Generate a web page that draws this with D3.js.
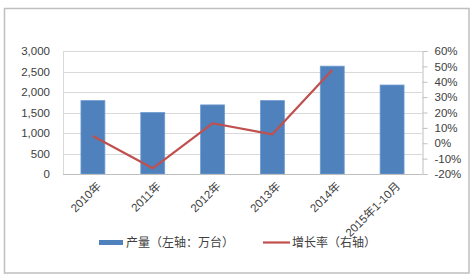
<!DOCTYPE html>
<html><head><meta charset="utf-8">
<script src="https://cdn.jsdelivr.net/npm/d3@7"></script>
<style>
html,body{margin:0;padding:0;background:#fff;}
svg text{font-family:"Liberation Sans","Noto Sans CJK SC",sans-serif;fill:#404040;}
</style></head>
<body><svg id="c" width="476" height="275"></svg>
<script>
const categories = ["2010年","2011年","2012年","2013年","2014年","2015年1-10月"];
const output = [1790, 1500, 1685, 1790, 2630, 2170];
const growth = [4.7, -16.3, 13.0, 5.8, 47.6];
const leftTicks = [0,500,1000,1500,2000,2500,3000];
const rightTicks = [-20,-10,0,10,20,30,40,50,60];
const legendLabels = ["产量（左轴：万台）","增长率（右轴）"];

const svg = d3.select("#c");
// outer frame
svg.append("rect").attr("x",4.5).attr("y",8.5).attr("width",464.5).attr("height",264.5)
  .attr("fill","none").attr("stroke","#bfbfbf").attr("stroke-width",1.5);

const L=63, R=422, T=51, B=174;
const x = d3.scaleBand().domain(categories).range([L,R]).paddingInner(0.6).paddingOuter(0.3);
const xc = d3.scalePoint().domain(categories).range([L,R]).padding(0.5);
const yL = d3.scaleLinear().domain([0,3000]).range([B,T]);
const yR = d3.scaleLinear().domain([-20,60]).range([B,T]);

// gridlines
svg.append("g").selectAll("line").data(leftTicks).join("line")
  .attr("x1",L).attr("x2",R).attr("y1",d=>Math.round(yL(d))+0.5).attr("y2",d=>Math.round(yL(d))+0.5)
  .attr("stroke","#d9d9d9").attr("stroke-width",1);
// left axis line
svg.append("line").attr("x1",L+0.5).attr("x2",L+0.5).attr("y1",T).attr("y2",B).attr("stroke","#d9d9d9");

// bars
svg.append("g").selectAll("rect").data(output).join("rect")
  .attr("x",(d,i)=>x(categories[i])).attr("width",x.bandwidth())
  .attr("y",d=>yL(d)).attr("height",d=>B-yL(d))
  .attr("fill","#4f81bd").attr("stroke","#6f9bd0").attr("stroke-width",0.8);

// x axis line
svg.append("line").attr("x1",L).attr("x2",R).attr("y1",B+0.5).attr("y2",B+0.5).attr("stroke","#bfbfbf");

// left axis labels
const gl = svg.append("g").attr("transform",`translate(${L},0)`)
  .call(d3.axisLeft(yL).tickValues(leftTicks).tickSize(0).tickPadding(13).tickFormat(d3.format(",")));
gl.select(".domain").remove();
gl.selectAll("text").attr("font-size",11.5).style("fill","#404040").style("font-family","'Liberation Sans','Noto Sans CJK SC',sans-serif");

// right axis
const gr = svg.append("g").attr("transform",`translate(${R+0.5},0)`)
  .call(d3.axisRight(yR).tickValues(rightTicks).tickSize(5).tickPadding(7).tickFormat(d=>d+"%"));
gr.select(".domain").attr("stroke","#bfbfbf");
gr.selectAll(".tick line").attr("stroke","#bfbfbf");
gr.selectAll("text").attr("font-size",11.5).style("fill","#404040").style("font-family","'Liberation Sans','Noto Sans CJK SC',sans-serif");

// line
const line = d3.line().x((d,i)=>xc(categories[i])).y(d=>yR(d));
svg.append("path").datum(growth).attr("d",line).attr("fill","none")
  .attr("stroke","#c0504d").attr("stroke-width",2.2).attr("stroke-linejoin","round");

// x labels
svg.append("g").selectAll("text").data(categories).join("text")
  .attr("transform",d=>`translate(${xc(d)+6},${B+10}) rotate(-45)`)
  .attr("text-anchor","end").attr("dy","0.35em").attr("font-size",11.5).text(d=>d);

// legend
const lg = svg.append("g");
lg.append("rect").attr("x",99).attr("y",240).attr("width",24).attr("height",5).attr("fill","#4f81bd");
lg.append("text").attr("x",126).attr("y",242.5).attr("dy","0.35em").attr("font-size",12).text(legendLabels[0]);
lg.append("line").attr("x1",263).attr("x2",290).attr("y1",242.5).attr("y2",242.5).attr("stroke","#c0504d").attr("stroke-width",2.2);
lg.append("text").attr("x",292).attr("y",242.5).attr("dy","0.35em").attr("font-size",12).text(legendLabels[1]);
</script></body></html>
